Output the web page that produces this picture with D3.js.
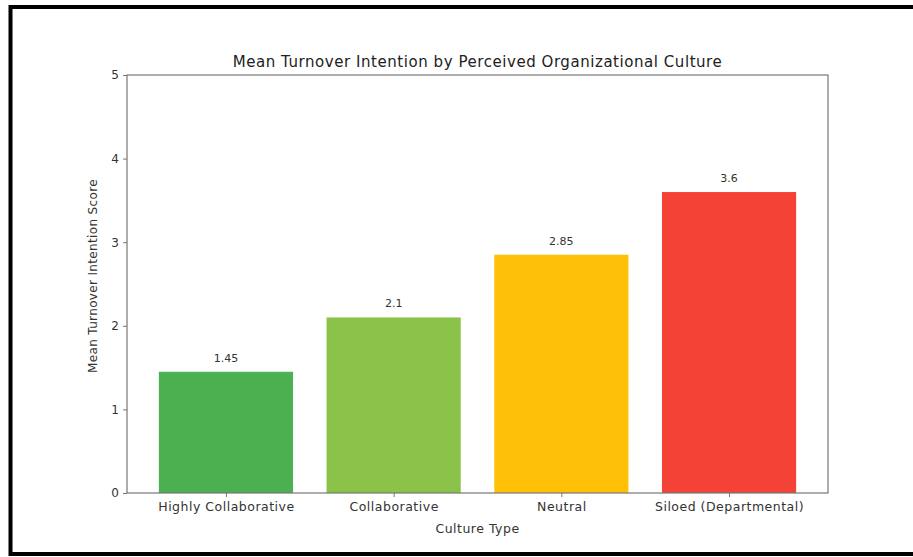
<!DOCTYPE html>
<html><head><meta charset="utf-8">
<script src="https://cdn.jsdelivr.net/npm/d3@7"></script>
<style>html,body{margin:0;padding:0;background:#fff;}svg{display:block;font-family:"DejaVu Sans",sans-serif;}</style>
</head><body>
<svg id="c" width="913" height="557"></svg>
<script>
const categories = ["Highly Collaborative", "Collaborative", "Neutral", "Siloed (Departmental)"];
const values = [1.45, 2.1, 2.85, 3.6];
const colors = ["#4CAF50", "#8BC34A", "#FFC107", "#F44336"];
const yTicks = [0, 1, 2, 3, 4, 5];
const title = "Mean Turnover Intention by Perceived Organizational Culture";
const xLabel = "Culture Type";
const yLabel = "Mean Turnover Intention Score";

const svg = d3.select("#c");
// outer frame
svg.append("rect").attr("x", 10.5).attr("y", 7).attr("width", 920).attr("height", 547)
  .attr("fill", "none").attr("stroke", "#000").attr("stroke-width", 4);

const L = 127, R = 828, T = 75, B = 493;
const x = d3.scaleLinear().domain([-0.59, 3.59]).range([L, R]);
const y = d3.scaleLinear().domain([0, 5]).range([B, T]);
const bw = 0.8;

const g = svg.append("g");
g.selectAll("rect.bar").data(values).join("rect").attr("class", "bar")
  .attr("x", (d, i) => x(i - bw / 2)).attr("width", (d, i) => x(i + bw / 2) - x(i - bw / 2))
  .attr("y", d => y(d)).attr("height", d => y(0) - y(d))
  .attr("fill", (d, i) => colors[i]);

g.selectAll("text.val").data(values).join("text").attr("class", "val")
  .attr("x", (d, i) => x(i)).attr("y", d => y(d) - 10)
  .attr("text-anchor", "middle").attr("font-size", 11).attr("fill", "#333")
  .text(d => d);

// frame
svg.append("rect").attr("x", L).attr("y", T).attr("width", R - L).attr("height", B - T)
  .attr("fill", "none").attr("stroke", "#777").attr("stroke-width", 1.2);

// y axis
const ya = svg.append("g").attr("transform", `translate(${L},0)`)
  .call(d3.axisLeft(y).tickValues(yTicks).tickFormat(d3.format("d")).tickSize(4).tickPadding(4));
ya.select(".domain").remove();
ya.selectAll("line").attr("stroke", "#777");
ya.selectAll("text").attr("font-size", 12).attr("fill", "#333").attr("font-family", "DejaVu Sans");

// x axis
const xa = svg.append("g").attr("transform", `translate(0,${B})`)
  .call(d3.axisBottom(x).tickValues(d3.range(categories.length)).tickFormat(i => categories[i]).tickSize(4).tickPadding(5));
xa.select(".domain").remove();
xa.selectAll("line").attr("stroke", "#777");
xa.selectAll("text").attr("font-size", 12.5).attr("letter-spacing", 0.5).attr("fill", "#333").attr("font-family", "DejaVu Sans");

svg.append("text").attr("x", (L + R) / 2).attr("y", 66.5).attr("text-anchor", "middle")
  .attr("font-size", 15).attr("letter-spacing", 0.55).attr("fill", "#222").text(title);
svg.append("text").attr("x", (L + R) / 2).attr("y", 532.5).attr("text-anchor", "middle")
  .attr("font-size", 12.5).attr("letter-spacing", 0.5).attr("fill", "#333").text(xLabel);
svg.append("text").attr("transform", `translate(97,${(T + B) / 2 - 8}) rotate(-90)`).attr("text-anchor", "middle")
  .attr("font-size", 12).attr("letter-spacing", 0.35).attr("fill", "#333").text(yLabel);
</script>
</body></html>
